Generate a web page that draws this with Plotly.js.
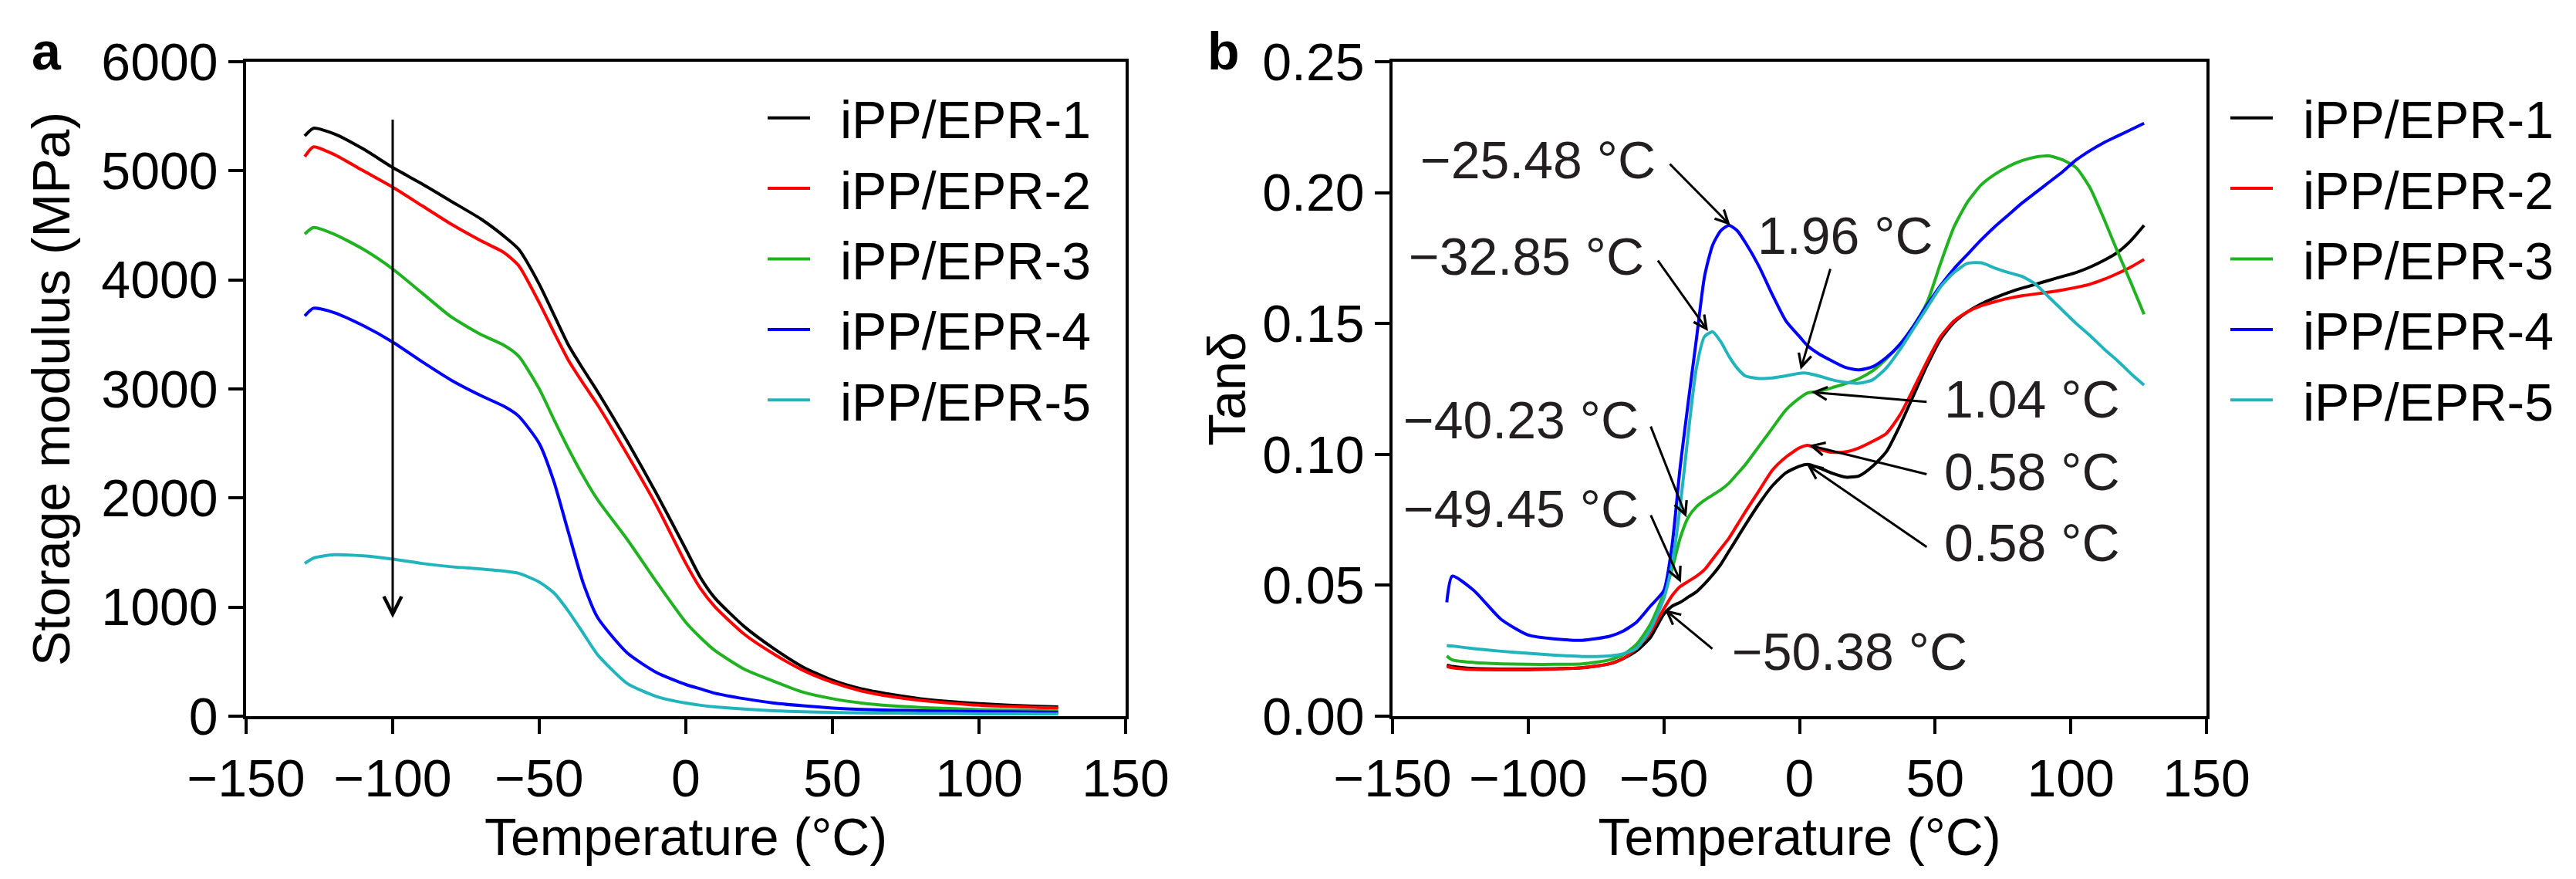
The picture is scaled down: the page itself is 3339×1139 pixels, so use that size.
<!DOCTYPE html>
<html>
<head>
<meta charset="utf-8">
<script src="https://cdn.plot.ly/plotly-3.0.1.min.js"></script>
<style>
  html, body { margin: 0; padding: 0; background: #fff; }
  #chart { width: 3339px; height: 1139px; }
</style>
</head>
<body>
<div id="chart"></div>
<script>
// series names and colours
var names = ['iPP/EPR-1', 'iPP/EPR-2', 'iPP/EPR-3', 'iPP/EPR-4', 'iPP/EPR-5'];
var colors = ['#000000', '#ff0000', '#21b221', '#0000ff', '#22b4bc'];

// panel a: storage modulus (MPa) vs temperature
var tempA = [-130, -127, -120, -110, -100, -90, -80, -70, -62, -57, -50, -45, -40, -35, -30,
  -20, -10, 0, 5, 10, 20, 30, 40, 50, 60, 70, 80, 90, 100, 110, 120, 127];
var modulus1 = [5320, 5390, 5340, 5200, 5030, 4880, 4720, 4560, 4400, 4280, 3960, 3680, 3400, 3180, 2970,
  2520, 2040, 1530, 1270, 1080, 820, 620, 450, 330, 250, 200, 160, 135, 115, 100, 90, 85];
var modulus2 = [5130, 5220, 5150, 5000, 4850, 4680, 4510, 4360, 4250, 4130, 3790, 3520, 3260, 3050, 2850,
  2400, 1930, 1400, 1170, 1000, 750, 570, 420, 310, 230, 180, 145, 120, 100, 90, 80, 75];
var modulus3 = [4420, 4480, 4420, 4280, 4100, 3880, 3660, 3500, 3400, 3300, 3000, 2720, 2450, 2200, 1980,
  1620, 1230, 860, 720, 600, 430, 320, 220, 160, 120, 95, 80, 70, 60, 55, 50, 48];
var modulus4 = [3670, 3740, 3700, 3580, 3430, 3250, 3080, 2940, 2840, 2750, 2500, 2150, 1680, 1220, 900,
  580, 400, 290, 250, 210, 160, 120, 95, 75, 62, 55, 50, 45, 42, 40, 38, 36];
var modulus5 = [1400, 1450, 1480, 1470, 1440, 1400, 1370, 1350, 1330, 1310, 1230, 1130, 960, 760, 560,
  300, 180, 120, 100, 85, 65, 50, 40, 35, 30, 28, 25, 24, 22, 21, 20, 20];

// panel b: tan delta vs temperature
var tempB = [-130, -128, -120, -110, -100, -90, -80, -70, -65, -60, -55, -50, -47, -44, -41, -38, -35,
  -32, -29, -26, -23, -20, -15, -10, -5, 0, 3, 7, 12, 17, 22, 27, 32, 37, 42, 47, 52, 57, 62, 67,
  72, 77, 82, 87, 92, 97, 102, 107, 112, 117, 122, 127];
var tan1 = [0.0195, 0.0190, 0.0182, 0.0180, 0.0180, 0.0181, 0.0185, 0.0200, 0.0220, 0.0250, 0.0300, 0.0390,
  0.0420, 0.0435, 0.0455, 0.0475, 0.0505, 0.0540, 0.0580, 0.0630, 0.0680, 0.0730, 0.0810, 0.0880, 0.0930,
  0.0955, 0.0962, 0.0950, 0.0928, 0.0913, 0.0918, 0.0955, 0.1010, 0.1110, 0.1225, 0.1340, 0.1440, 0.1505,
  0.1545, 0.1575, 0.1598, 0.1618, 0.1635, 0.1650, 0.1665, 0.1680, 0.1695, 0.1715, 0.1740, 0.1770,
  0.1815, 0.1875];
var tan2 = [0.0190, 0.0185, 0.0178, 0.0177, 0.0177, 0.0180, 0.0185, 0.0200, 0.0220, 0.0260, 0.0320, 0.0410,
  0.0460, 0.0495, 0.0515, 0.0535, 0.0560, 0.0600, 0.0640, 0.0680, 0.0730, 0.0780, 0.0860, 0.0940, 0.0990,
  0.1025, 0.1035, 0.1020, 0.1008, 0.1010, 0.1025, 0.1050, 0.1080, 0.1150, 0.1250, 0.1355, 0.1450, 0.1510,
  0.1545, 0.1568, 0.1583, 0.1596, 0.1606, 0.1613, 0.1620, 0.1628, 0.1638, 0.1650, 0.1668, 0.1690,
  0.1715, 0.1745];
var tan3 = [0.0230, 0.0215, 0.0205, 0.0200, 0.0198, 0.0198, 0.0200, 0.0215, 0.0235, 0.0275, 0.0350, 0.0470,
  0.0560, 0.0680, 0.0760, 0.0800, 0.0825, 0.0845, 0.0865, 0.0890, 0.0925, 0.0960, 0.1030, 0.1100, 0.1170,
  0.1215, 0.1235, 0.1240, 0.1255, 0.1270, 0.1290, 0.1320, 0.1365, 0.1420, 0.1490, 0.1580, 0.1730, 0.1870,
  0.1965, 0.2030, 0.2070, 0.2100, 0.2122, 0.2136, 0.2140, 0.2125, 0.2095, 0.2020, 0.1905, 0.1780,
  0.1660, 0.1535];
var tan4 = [0.0435, 0.0535, 0.0480, 0.0370, 0.0310, 0.0295, 0.0290, 0.0305, 0.0325, 0.0360, 0.0420, 0.0480,
  0.0650, 0.0950, 0.1200, 0.1440, 0.1680, 0.1800, 0.1855, 0.1875, 0.1855, 0.1810, 0.1720, 0.1610, 0.1510,
  0.1450, 0.1415, 0.1385, 0.1357, 0.1332, 0.1323, 0.1335, 0.1370, 0.1420, 0.1490, 0.1570, 0.1645, 0.1710,
  0.1765, 0.1820, 0.1870, 0.1915, 0.1960, 0.2000, 0.2040, 0.2080, 0.2125, 0.2160, 0.2190, 0.2215,
  0.2240, 0.2265];
var tan5 = [0.0270, 0.0268, 0.0258, 0.0248, 0.0240, 0.0233, 0.0228, 0.0230, 0.0238, 0.0260, 0.0330, 0.0450,
  0.0580, 0.0800, 0.1080, 0.1330, 0.1450, 0.1468, 0.1430, 0.1375, 0.1330, 0.1300, 0.1290, 0.1292, 0.1300,
  0.1310, 0.1310, 0.1300, 0.1285, 0.1275, 0.1272, 0.1285, 0.1330, 0.1400, 0.1480, 0.1560, 0.1640, 0.1695,
  0.1730, 0.1732, 0.1712, 0.1695, 0.1680, 0.1650, 0.1600, 0.1550, 0.1500, 0.1455, 0.1405, 0.1360,
  0.1310, 0.1265];

// peak labels in panel b
var peakLabels = ['\u221225.48 \u00b0C', '1.96 \u00b0C', '\u221232.85 \u00b0C', '1.04 \u00b0C', '0.58 \u00b0C',
  '0.58 \u00b0C', '\u221240.23 \u00b0C', '\u221249.45 \u00b0C', '\u221250.38 \u00b0C'];

var modA = [modulus1, modulus2, modulus3, modulus4, modulus5];
var tanB = [tan1, tan2, tan3, tan4, tan5];

var FONT = 'Liberation Sans, Arial, Helvetica, sans-serif';
var FS = 68;

var data = [];
for (var i = 0; i < names.length; i++) {
  data.push({
    x: tempA, y: modA[i], name: '\u2002' + names[i], type: 'scatter', mode: 'lines',
    line: {color: colors[i], width: 4, shape: 'spline', smoothing: 0.6},
    xaxis: 'x', yaxis: 'y', legend: 'legend'
  });
}
for (var j = 0; j < names.length; j++) {
  data.push({
    x: tempB, y: tanB[j], name: '\u2002' + names[j], type: 'scatter', mode: 'lines',
    line: {color: colors[j], width: 4, shape: 'spline', smoothing: 0.6},
    xaxis: 'x2', yaxis: 'y2', legend: 'legend2'
  });
}

function axisX(domain, anchor) {
  return {
    domain: domain, anchor: anchor, range: [-150, 150], tick0: -150, dtick: 50,
    showline: true, mirror: true, linecolor: '#000', linewidth: 3.5,
    ticks: 'outside', ticklen: 19, tickwidth: 3.5, tickcolor: '#000',
    showgrid: false, zeroline: false,
    tickfont: {family: FONT, size: FS, color: '#000'},
    title: {text: 'Temperature (\u00b0C)', font: {family: FONT, size: FS, color: '#000'}, standoff: 4}
  };
}
function axisY(domain, anchor, range, dtick, fmt, title, standoff) {
  return {
    domain: domain, anchor: anchor, range: range, tick0: 0, dtick: dtick, tickformat: fmt,
    showline: true, mirror: true, linecolor: '#000', linewidth: 3.5,
    ticks: 'outside', ticklen: 19, tickwidth: 3.5, tickcolor: '#000',
    showgrid: false, zeroline: false,
    tickfont: {family: FONT, size: FS, color: '#000'},
    title: {text: title, font: {family: FONT, size: FS, color: '#000'}, standoff: standoff}
  };
}

var W = 3339, H = 1139;
var yDom = [1 - 928 / H, 1 - 80 / H];

var annotations = [];
// panel letters
annotations.push({xref: 'paper', yref: 'paper', x: 60 / W, y: 1 - 66 / H, text: '<b>a</b>',
  xanchor: 'center', yanchor: 'middle', showarrow: false, font: {family: FONT, size: FS, color: '#000'}});
annotations.push({xref: 'paper', yref: 'paper', x: 1586 / W, y: 1 - 66 / H, text: '<b>b</b>',
  xanchor: 'center', yanchor: 'middle', showarrow: false, font: {family: FONT, size: FS, color: '#000'}});
// downward arrow in panel a
annotations.push({xref: 'x', yref: 'y', axref: 'x', ayref: 'y', x: -100, y: 900, ax: -100, ay: 5480,
  text: '', showarrow: true, arrowhead: 5, arrowsize: 1.5, arrowwidth: 3, arrowcolor: '#000'});

// label positions [x, y] (left edge, middle) and arrow [tipX, tipY, tailX, tailY]
var labelPos = [[-140.3, 0.2126], [-16.1, 0.1837], [-144.6, 0.1757], [52.7, 0.1212], [52.7, 0.0935],
  [52.7, 0.0663], [-146.6, 0.1132], [-146.6, 0.0793], [-25.5, 0.0248]];
var arrows = [[-25.5, 0.1875, -48.2, 0.2114], [0.4, 0.1324, 11.5, 0.1713], [-33.7, 0.1471, -52.5, 0.1745],
  [4.4, 0.1238, 47.3, 0.1200], [3.5, 0.1035, 47.3, 0.0923], [2.7, 0.0961, 47.3, 0.0643],
  [-41.7, 0.0760, -55.0, 0.1111], [-43.7, 0.0510, -55.0, 0.0772], [-49.6, 0.0407, -31.7, 0.0254]];
for (var k = 0; k < peakLabels.length; k++) {
  annotations.push({xref: 'x2', yref: 'y2', x: labelPos[k][0], y: labelPos[k][1], text: peakLabels[k],
    xanchor: 'left', yanchor: 'middle', showarrow: false,
    font: {family: FONT, size: FS, color: '#231f20'}});
  annotations.push({xref: 'x2', yref: 'y2', axref: 'x2', ayref: 'y2',
    x: arrows[k][0], y: arrows[k][1], ax: arrows[k][2], ay: arrows[k][3],
    text: '', showarrow: true, arrowhead: 5, arrowsize: 1.1, arrowwidth: 3, arrowcolor: '#000'});
}

var legendBase = {
  xanchor: 'left', yanchor: 'top', bgcolor: 'rgba(0,0,0,0)', borderwidth: 0,
  font: {family: FONT, size: FS, color: '#000'}, itemwidth: 55, tracegroupgap: 0
};

var layout = {
  width: W, height: H,
  margin: {l: 0, r: 0, t: 0, b: 0},
  paper_bgcolor: '#fff', plot_bgcolor: '#fff',
  showlegend: true,
  xaxis: axisX([319 / W, 1459 / W], 'y'),
  yaxis: axisY(yDom, 'x', [0, 6000], 1000, 'd', 'Storage modulus (MPa)', 20),
  xaxis2: axisX([1805 / W, 2860 / W], 'y2'),
  yaxis2: axisY(yDom, 'x2', [0, 0.25], 0.05, '.2f', 'Tan\u03b4', 0),
  legend: Object.assign({}, legendBase, {x: 990 / W, y: 1 - 102 / H}),
  legend2: Object.assign({}, legendBase, {x: 2886 / W, y: 1 - 102 / H}),
  annotations: annotations
};

Plotly.newPlot('chart', data, layout, {displayModeBar: false, responsive: false});
</script>
</body>
</html>
